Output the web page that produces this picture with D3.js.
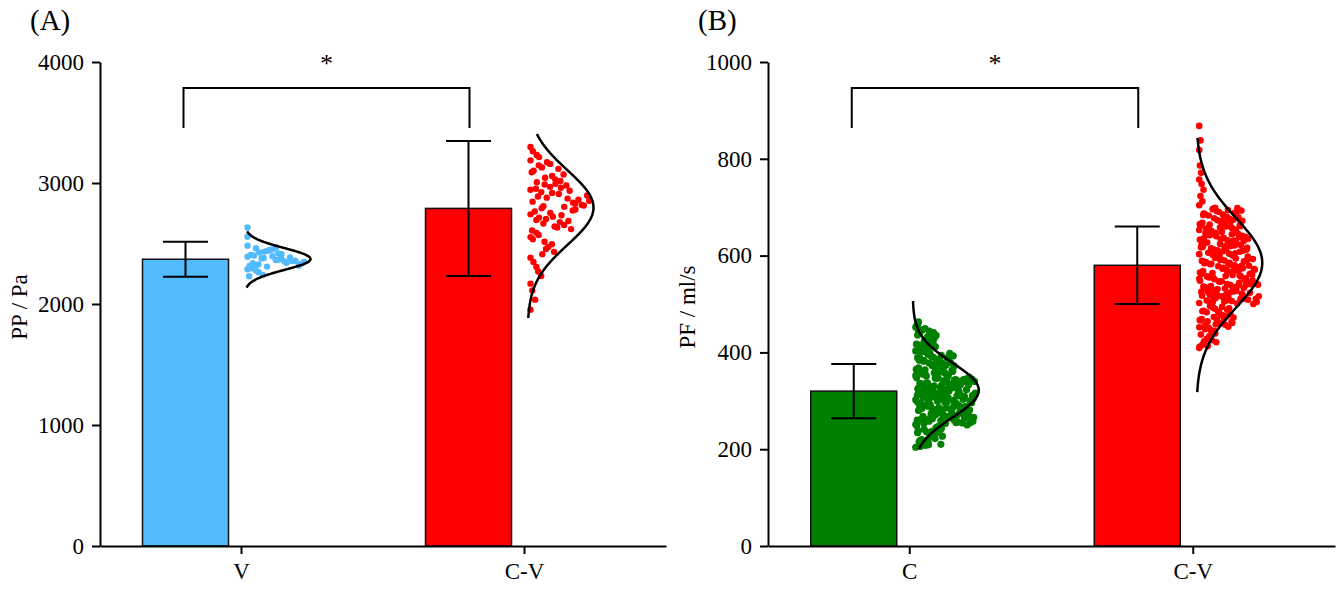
<!DOCTYPE html>
<html>
<head>
<meta charset="utf-8">
<script src="https://cdn.jsdelivr.net/npm/d3@7"></script>
<style>
body { margin: 0; background: #fff; }
svg text { font-family: "Liberation Serif", "Times New Roman", serif; }
</style>
</head>
<body>
<div id="chart"></div>
<script>
// bar summaries (mean +/- error)
let groupsA = ["V", "C-V"];
let meanA = [2370, 2790];
let errA = [145, 558];
let ticksA = [0, 1000, 2000, 3000, 4000];

let groupsB = ["C", "C-V"];
let meanB = [320, 580];
let errB = [56, 80];
let ticksB = [0, 200, 400, 600, 800, 1000];

// fitted normal curves: [mean, sd, from, to]
let fitA = [[2372, 90, 2135, 2600], [2797, 308, 1884, 3405]];
let fitB = [[322, 56, 200, 506], [585, 92, 318, 843]];

// raw samples
let ptsAV = [2632, 2556,
  2482, 2447, 2461, 2418, 2433, 2405, 2452, 2426, 2412, 2440, 2401, 2468,
  2391, 2352, 2376, 2318, 2364, 2337, 2385, 2309, 2347, 2372, 2326, 2358, 2395, 2314, 2341, 2381, 2330, 2366, 2303, 2355,
  2287, 2263, 2295, 2241, 2276, 2229];

let ptsACV = [3298, 3231, 3262, 3214,
  3187, 3058, 3146, 3017, 3171, 3102, 3030, 3129, 3071, 3158, 3006, 3117, 3044, 3089,
  2944, 2871, 2987, 2818, 2909, 2953, 2838, 2968, 2897, 2803, 2925, 2862, 2994, 2846, 2936, 2879, 2814, 2961, 2888, 2829, 2918, 2853, 2979, 2808,
  2741, 2677, 2792, 2619, 2722, 2764, 2653, 2703, 2781, 2632, 2714, 2686, 2752, 2607, 2733, 2665, 2773, 2641, 2694,
  2553, 2455, 2588, 2494, 2412, 2536, 2472, 2571, 2431, 2515,
  2383, 2268, 2347, 2231, 2306,
  2168, 2036, 2112,
  1952];

let ptsBC = [204, 231, 217, 246, 209, 238, 222, 213, 243, 228, 206, 235, 219, 249, 225, 211, 240, 232, 215, 244,
  208, 227, 237, 220, 247, 214, 234, 224, 241, 210, 229, 218, 245, 236,
  251, 276, 263, 288, 257, 294, 270, 282, 259, 266, 291, 254, 279, 297, 261, 285, 272, 253, 268, 290,
  277, 258, 283, 295, 264, 273, 287, 255, 269, 281, 298, 260, 275, 286, 252, 267, 292, 278, 262, 284,
  256, 271, 296, 265, 289, 274, 259, 280, 293, 263, 270, 285, 253, 277, 299, 266, 282, 258, 288, 272,
  261, 294, 279, 255, 268, 291, 276, 284, 260, 287, 273, 250, 297,
  302, 327, 314, 341, 308, 335, 321, 347, 311, 330, 318, 344, 305, 325, 338, 312, 349, 323, 307, 333,
  316, 340, 328, 303, 345, 320, 336, 310, 331, 343, 306, 324, 339, 315, 348, 301, 329, 342, 313, 334,
  319, 346, 304, 326, 337, 309, 332, 317, 344, 322, 300, 339, 327, 311, 347, 316, 335, 305, 323, 341,
  314, 330, 308, 345, 320, 336, 303, 328, 312, 343, 318, 333, 306, 325, 340,
  352, 377, 364, 391, 358, 384, 370, 397, 361, 381, 355, 388, 373, 362, 394, 351, 379, 367, 386, 357,
  399, 372, 360, 383, 353, 390, 368, 376, 396, 363, 385, 356, 374, 392, 365, 380, 354, 398, 371, 387,
  359, 378, 393, 366, 382, 350, 375, 389, 369,
  403, 428, 415, 441, 409, 436, 421, 447, 412, 432, 406, 438, 424, 417, 444, 401, 430, 419, 446, 426,
  411, 435, 404, 442, 422, 449,
  452, 458, 455, 463];

let ptsBCV = [409, 431, 418, 444, 413, 437, 425, 448, 421, 434, 416, 441, 428, 412, 446, 423, 439, 427,
  452, 478, 464, 491, 458, 485, 470, 497, 461, 482, 455, 488, 473, 466, 494, 451, 479, 468, 486, 457,
  499, 472, 460, 483, 453, 490, 469, 476, 496, 463, 484, 456, 474, 492, 467,
  502, 527, 514, 541, 508, 535, 521, 547, 511, 530, 518, 544, 505, 525, 538, 512, 549, 523, 507, 533,
  516, 540, 528, 503, 545, 520, 536, 510, 531, 543, 506, 524, 539, 515, 548, 501, 529, 542, 513, 534,
  519, 546, 504, 526, 537, 509, 532, 517, 544, 522, 500, 539, 527, 511, 547, 516, 535, 505, 523, 541,
  552, 577, 564, 591, 558, 584, 570, 597, 561, 581, 555, 588, 573, 562, 594, 551, 579, 567, 586, 557,
  599, 572, 560, 583, 553, 590, 568, 576, 596, 563, 585, 556, 574, 592, 565, 580, 554, 598, 571, 587,
  559, 578, 593, 566, 582, 550, 575, 589, 569, 595, 562, 584, 557, 579, 591, 571,
  603, 628, 615, 641, 609, 636, 621, 647, 612, 632, 606, 638, 624, 617, 644, 601, 630, 619, 646, 626,
  611, 635, 604, 642, 622, 649, 618, 631, 607, 639, 614, 627, 645, 602, 633, 620, 648, 610, 637, 625,
  605, 640, 616, 629, 643, 608, 634, 623, 600, 613,
  653, 678, 664, 691, 658, 684, 670, 697, 661, 681, 655, 688, 673, 662, 694, 651, 679, 667, 686, 657,
  699, 672, 660, 683, 654, 690, 668, 676, 696, 663, 685, 656, 674, 692, 665, 680, 652, 698, 671, 687,
  659, 677, 693, 666,
  704, 712, 723, 736, 748,
  757, 771, 786,
  818, 838,
  868];

let width = 1343, height = 589;
let plotTop = 62, plotBottom = 546;

let svg = d3.select("#chart")
    .append("svg")
    .attr("width", width)
    .attr("height", height);

function panel(p) {
    let g = svg.append("g");

    let x = d3.scaleBand().domain(p.groups).range([p.x0, p.x1]);
    let y = d3.scaleLinear().domain([0, p.ticks[p.ticks.length - 1]]).range([plotBottom, plotTop]);
    let center = d => x(d) + x.bandwidth() / 2;

    // bars
    g.append("g")
        .selectAll("rect")
        .data(p.groups)
        .join("rect")
        .attr("x", d => center(d) - 99)
        .attr("width", 86)
        .attr("y", (d, i) => y(p.means[i]))
        .attr("height", (d, i) => y(0) - y(p.means[i]))
        .attr("fill", (d, i) => p.colors[i])
        .attr("stroke", "#111")
        .attr("stroke-width", 1.5);

    // error bars
    g.append("g")
        .attr("stroke", "#000")
        .attr("stroke-width", 2)
        .selectAll("path")
        .data(p.groups)
        .join("path")
        .attr("fill", "none")
        .attr("d", (d, i) => {
            let cx = center(d) - 56;
            let hi = y(p.means[i] + p.errs[i]), lo = y(p.means[i] - p.errs[i]);
            return `M${cx - 22.5},${hi}H${cx + 22.5}M${cx},${hi}V${lo}M${cx - 22.5},${lo}H${cx + 22.5}`;
        });

    // jittered points, spread by histogram count
    p.groups.forEach((grp, i) => {
        let s = p.samples[i];
        let base = center(grp) + 3;
        let bins = d3.bin()
            .domain(s.domain)
            .thresholds(d3.range(s.domain[0], s.domain[1], s.step))(s.values);
        let w = d3.scaleLinear().domain([0, d3.max(bins, b => b.length)]).range([0, 60]);
        let pts = [];
        bins.forEach(b => b.forEach((v, k) => pts.push({v: v, x: base + 3 + ((k * 0.618034) % 1) * w(b.length)})));
        g.append("g")
            .attr("fill", p.colors[i])
            .selectAll("circle")
            .data(pts)
            .join("circle")
            .attr("cx", d => d.x)
            .attr("cy", d => y(d.v))
            .attr("r", s.r);

        // normal curve
        let [m, sd, lo, hi] = p.fits[i];
        let c = d3.scaleLinear().domain([0, 1]).range([base, base + 66]);
        let vals = d3.range(lo, hi, (hi - lo) / 200).concat([hi]);
        g.append("path")
            .datum(vals)
            .attr("fill", "none")
            .attr("stroke", "#000")
            .attr("stroke-width", 2.5)
            .attr("d", d3.line()
                .curve(d3.curveBasis)
                .x(v => c(Math.exp(-0.5 * ((v - m) / sd) ** 2)))
                .y(v => y(v)));
    });

    // axes
    let yAxis = g.append("g")
        .attr("transform", `translate(${p.x0},0)`)
        .call(d3.axisLeft(y).tickValues(p.ticks).tickFormat(d3.format("d")).tickSize(8).tickPadding(8).tickSizeOuter(0));
    let xAxis = g.append("g")
        .attr("transform", `translate(0,${plotBottom})`)
        .call(d3.axisBottom(x).tickSize(8).tickPadding(9).tickSizeOuter(0));
    [yAxis, xAxis].forEach(a => {
        a.attr("font-size", 23).attr("font-family", null);
        a.selectAll("path, line").attr("stroke", "#000").attr("stroke-width", 2);
        a.selectAll("text").attr("fill", "#000");
    });

    // y title
    g.append("text")
        .attr("transform", `translate(${p.x0 - 73},${(plotTop + plotBottom) / 2 + 3}) rotate(-90)`)
        .attr("text-anchor", "middle")
        .attr("font-size", 23)
        .text(p.title);

    // panel label
    g.append("text")
        .attr("x", p.x0 - 70)
        .attr("y", 30)
        .attr("font-size", 29)
        .text(p.label);

    // significance bracket
    let bx0 = center(p.groups[0]) - 58, bx1 = center(p.groups[1]) - 55;
    g.append("path")
        .attr("fill", "none")
        .attr("stroke", "#000")
        .attr("stroke-width", 2)
        .attr("d", `M${bx0},${plotTop + 66}V${plotTop + 26}H${bx1}V${plotTop + 66}`);
    g.append("text")
        .attr("x", (bx0 + bx1) / 2)
        .attr("y", 72)
        .attr("text-anchor", "middle")
        .attr("font-size", 26)
        .text("*");
}

panel({
    label: "(A)", title: "PP / Pa", x0: 100, x1: 666,
    groups: groupsA, means: meanA, errs: errA, ticks: ticksA, fits: fitA,
    colors: ["#52baff", "#ff0000"],
    samples: [{values: ptsAV, domain: [2200, 2700], step: 100, r: 3.2},
              {values: ptsACV, domain: [1800, 3400], step: 200, r: 3.2}]
});
panel({
    label: "(B)", title: "PF / ml/s", x0: 768, x1: 1335,
    groups: groupsB, means: meanB, errs: errB, ticks: ticksB, fits: fitB,
    colors: ["#008000", "#ff0000"],
    samples: [{values: ptsBC, domain: [200, 500], step: 50, r: 3.6},
              {values: ptsBCV, domain: [400, 900], step: 50, r: 3.3}]
});
</script>
</body>
</html>
